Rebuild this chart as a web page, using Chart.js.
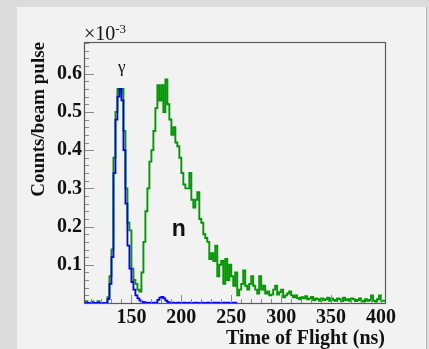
<!DOCTYPE html>
<html>
<head>
<meta charset="utf-8">
<script src="https://cdn.jsdelivr.net/npm/chart.js@4.4.1/dist/chart.umd.min.js"></script>
<style>
  html, body { margin: 0; padding: 0; }
  body { width: 429px; height: 349px; background: #dcdcdc; position: relative; overflow: hidden; }
  #panel { position: absolute; left: 17px; top: 7px; width: 409px; height: 342px; background: #f2f2f2; box-shadow: 1px 0 0 #b8b8b8; }
  #c { position: absolute; left: 0; top: 0; }
</style>
</head>
<body>
<div id="panel"><canvas id="c" width="409" height="342"></canvas></div>
<script>
// ---- data (values in units of 1e-3 counts per beam pulse) ----
const binStart = 102;      // ns, first bin lower edge
const binWidth = 2;        // ns
const xTickValues = [150, 200, 250, 300, 350, 400];
const yTickValues = [0.1, 0.2, 0.3, 0.4, 0.5, 0.6];
const xTitle = 'Time of Flight (ns)';
const yTitle = 'Counts/beam pulse';
const multiplierLabel = ['\u00d710', '-3'];
const peakLabels = [{ text: '\u03b3', x: 140.2, y: 0.616 }, { text: 'n', x: 197.5, y: 0.193 }];

// green: all events
const greenCounts = [
  0, 0, 0.005, 0, 0, 0.004, 0, 0, 0.005, 0, 0, 0, 0,          // 102-126
  0.015, 0.07, 0.14, 0.38, 0.50, 0.56, 0.55, 0.56, 0.45, 0.30, // 128-146
  0.21, 0.19, 0.09, 0.06, 0.05, 0.035, 0.03, 0.08, 0.16, 0.24,  // 148-166
  0.30, 0.37, 0.40, 0.45, 0.51, 0.57, 0.53, 0.57, 0.50, 0.585,  // 168-186
  0.52, 0.48, 0.44, 0.46, 0.42, 0.41, 0.38, 0.34, 0.31, 0.30,   // 188-206
  0.30, 0.34, 0.27, 0.25, 0.27, 0.29, 0.22, 0.21, 0.18, 0.17,   // 208-226
  0.16, 0.115, 0.13, 0.11, 0.15, 0.07, 0.10, 0.11, 0.05, 0.115, // 228-246
  0.06, 0.10, 0.07, 0.045, 0.08, 0.02, 0.035, 0.05, 0.085, 0.045, // 248-266
  0.035, 0.05, 0.07, 0.045, 0.035, 0.025, 0.07, 0.035, 0.045, 0.025, // 268-286
  0.03, 0.02, 0.022, 0.035, 0.045, 0.022, 0.028, 0.035, 0.015, 0.02, // 288-306
  0.025, 0.03, 0.02, 0.015, 0.02, 0.013, 0.01, 0.015, 0.012, 0.018,  // 308-326
  0.01, 0.012, 0.016, 0.008, 0.012, 0.01, 0.006, 0.012, 0.008, 0.01, // 328-346
  0.014, 0.006, 0.012, 0.008, 0.006, 0.012, 0.01, 0.005, 0.014, 0.008, // 348-366
  0.01, 0.006, 0.012, 0.01, 0.005, 0.008, 0.012, 0.006, 0.004, 0.01,  // 368-386
  0.006, 0.008, 0.02, 0.006, 0.004, 0.01, 0.02, 0.006                 // 388-402
];
// blue: gamma selection
const blueCounts = [
  0, 0, 0, 0, 0, 0, 0, 0, 0, 0, 0, 0, 0,                          // 102-126
  0.01, 0.05, 0.12, 0.34, 0.48, 0.54, 0.56, 0.53, 0.40, 0.26,     // 128-146
  0.15, 0.09, 0.055, 0.035, 0.02, 0.012, 0.006, 0.003, 0.002, 0.001, // 148-166
  0, 0.001, 0, 0.001, 0, 0.008, 0.014, 0.016, 0.012, 0.006,       // 168-186
  0.002, 0, 0.001, 0, 0, 0.001, 0, 0, 0.001, 0,                   // 188-206
  0, 0.001, 0, 0, 0.001, 0, 0, 0.001, 0, 0,                       // 208-226
  0.001, 0, 0, 0.001, 0, 0.001, 0, 0, 0.001, 0,                   // 228-246
  0.001, 0, 0, 0.001                                              // 248-254
];

function histPoints(counts) {
  const pts = counts.map((v, i) => ({ x: binStart + i * binWidth, y: v }));
  pts.push({ x: binStart + counts.length * binWidth, y: counts[counts.length - 1] });
  return pts;
}

const serifBold = { family: "'Liberation Serif', 'Times New Roman', serif", weight: 'bold' };

const decorations = {
  id: 'decorations',
  afterDatasetsDraw(chart) {
    const { ctx, chartArea: a, scales: { x, y } } = chart;
    ctx.save();
    // tick marks (inside)
    ctx.lineWidth = 1;
    ctx.strokeStyle = '#8a8a8a';
    for (let v = 110; v <= 400; v += 10) {
      const px = Math.round(x.getPixelForValue(v)) + 0.5;
      const len = v % 50 === 0 ? 8 : 4;
      ctx.beginPath(); ctx.moveTo(px, a.bottom); ctx.lineTo(px, a.bottom - len); ctx.stroke();
    }
    for (let k = 1; k <= 34; k++) {
      const v = k * 0.02;
      const py = Math.round(y.getPixelForValue(v)) + 0.5;
      const len = k % 5 === 0 ? 10 : 5;
      ctx.beginPath(); ctx.moveTo(a.left, py); ctx.lineTo(a.left + len, py); ctx.stroke();
    }
    // frame
    ctx.strokeStyle = '#5a5a5a';
    ctx.lineWidth = 1.2;
    ctx.strokeRect(a.left + 0.5, a.top + 0.5, a.right - a.left, a.bottom - a.top);
    // multiplier
    ctx.fillStyle = '#111';
    ctx.textBaseline = 'alphabetic';
    ctx.textAlign = 'left';
    ctx.font = "20px 'Liberation Serif', serif";
    ctx.fillText(multiplierLabel[0], a.left, a.top - 2);
    const w = ctx.measureText(multiplierLabel[0]).width;
    ctx.font = "13px 'Liberation Serif', serif";
    ctx.fillText(multiplierLabel[1], a.left + w, a.top - 9);
    // peak labels
    ctx.textAlign = 'center';
    ctx.textBaseline = 'middle';
    ctx.font = "17px 'Liberation Serif', serif";
    ctx.fillText(peakLabels[0].text, x.getPixelForValue(peakLabels[0].x), y.getPixelForValue(peakLabels[0].y));
    ctx.font = "bold 23px 'Liberation Sans', Arial, sans-serif";
    ctx.fillText(peakLabels[1].text, x.getPixelForValue(peakLabels[1].x), y.getPixelForValue(peakLabels[1].y));
    ctx.restore();
  }
};

new Chart(document.getElementById('c'), {
  type: 'line',
  data: {
    datasets: [
      { label: 'gamma', data: histPoints(blueCounts), borderColor: '#0000ff', borderWidth: 1.8,
        stepped: 'after', pointRadius: 0, fill: false, order: 0, clip: { left: 0, top: 0, right: 0, bottom: 2 } },
      { label: 'all', data: histPoints(greenCounts), borderColor: '#009900', borderWidth: 1.9,
        stepped: 'after', pointRadius: 0, fill: false, order: 1, clip: { left: 0, top: 0, right: 0, bottom: 2 } }
    ]
  },
  options: {
    animation: false,
    responsive: false,
    devicePixelRatio: 1,
    layout: { padding: { top: 35, right: 41, left: 0, bottom: 0 } },
    plugins: { legend: { display: false }, tooltip: { enabled: false } },
    scales: {
      x: {
        type: 'linear', min: 102.5, max: 404,
        afterBuildTicks: s => { s.ticks = xTickValues.map(v => ({ value: v })); },
        afterFit: s => { s.height = 46; },
        grid: { display: false, drawTicks: false },
        border: { display: false },
        ticks: { color: '#111', font: { ...serifBold, size: 20 }, padding: 3, maxRotation: 0, autoSkip: false,
                 callback: v => String(v) },
        title: { display: true, text: xTitle, align: 'end', color: '#111',
                 font: { ...serifBold, size: 20, lineHeight: 1.05 }, padding: { top: 0, bottom: 0 } }
      },
      y: {
        type: 'linear', min: 0, max: 0.683,
        afterBuildTicks: s => { s.ticks = yTickValues.map(v => ({ value: v })); },
        afterFit: s => { s.width = 67; },
        grid: { display: false, drawTicks: false },
        border: { display: false },
        ticks: { color: '#111', font: { ...serifBold, size: 20 }, padding: 2, autoSkip: false,
                 callback: v => v.toFixed(1) },
        title: { display: true, text: yTitle, align: 'end', color: '#111',
                 font: { ...serifBold, size: 19 }, padding: { top: 11, bottom: 0 } }
      }
    }
  },
  plugins: [decorations]
});
</script>
</body>
</html>
